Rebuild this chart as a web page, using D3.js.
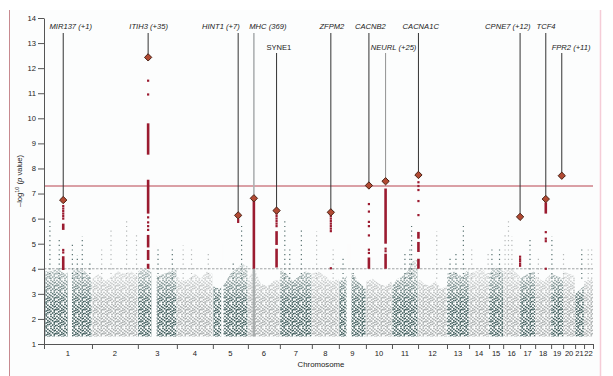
<!DOCTYPE html>
<html>
<head>
<meta charset="utf-8">
<script src="https://cdn.jsdelivr.net/npm/d3@7"></script>
<style>
  body { margin: 0; background: #fff; }
  svg { display: block; font-family: "Liberation Sans", Arial, sans-serif; }
</style>
</head>
<body>
<svg id="chart" width="613" height="376"></svg>
<script>
var chromosomes = ["1","2","3","4","5","6","7","8","9","10","11","12","13","14","15","16","17","18","19","20","21","22"];
var chrLength = [252, 241, 205, 189, 184, 168, 168, 142, 142, 137, 137, 152, 116, 105, 74, 89, 79, 84, 63, 63, 47, 47];

// top of the dense background cloud, sampled evenly along each chromosome (-log10 p)
var cloudTop = [
  [3.9, 3.9, 4.0, 3.8, 3.9, 4.0, 3.9, 3.6],
  [3.6, 3.8, 3.5, 3.7, 3.9, 3.8, 3.9, 3.7],
  [3.9, 4.0, 3.9, 3.7, 3.8, 3.9, 4.0],
  [3.7, 3.5, 3.6, 3.8, 3.6, 3.9, 3.8],
  [3.3, 3.2, 3.4, 3.8, 4.0, 4.2, 4.1],
  [3.6, 4.0, 3.4, 3.3, 3.5, 3.6],
  [4.0, 3.8, 3.5, 3.7, 3.9, 3.8],
  [3.8, 3.9, 3.7, 3.5, 3.6],
  [3.5, 3.6, 3.9, 3.7, 3.4, 3.2],
  [3.5, 3.6, 3.4, 3.3, 3.5],
  [3.3, 3.6, 3.7, 3.9, 4.3, 4.4],
  [3.6, 3.4, 3.3, 3.5, 3.2, 3.3],
  [3.8, 3.9, 3.7, 4.0],
  [3.8, 3.9, 4.0, 3.7],
  [3.8, 4.1, 3.9],
  [3.9, 4.0, 3.7],
  [3.6, 3.8, 3.9],
  [3.7, 3.5, 3.8],
  [3.8, 3.6],
  [3.9, 3.7],
  [3.0, 3.3],
  [3.5, 3.6]
];
var cloudFloor = 1.3;

// empty stretches in the cloud: [chromosome, from Mb, to Mb]
var cloudGaps = [[1, 126, 147], [3, 72, 99], [5, 44, 56], [9, 40, 66]];

// sparse background streaks above the cloud: [chromosome, Mb, top]
var streaks = [
  [1, 31, 5.95], [1, 80, 5.2], [1, 149, 5.0], [1, 175, 4.55], [1, 201, 5.3], [1, 241, 4.33],
  [2, 51, 4.87], [2, 100, 5.6], [2, 182, 6.0], [2, 234, 5.4],
  [3, 106, 4.8], [3, 181, 4.87],
  [4, 33, 4.93], [4, 77, 4.8], [4, 165, 4.7],
  [5, 107, 4.27], [5, 151, 5.8],
  [7, 26, 6.0], [7, 52, 4.8], [7, 113, 5.6],
  [8, 25, 5.5], [8, 112, 4.8],
  [9, 22, 4.5], [9, 75, 4.1],
  [11, 68, 4.67], [11, 94, 4.87], [11, 103, 5.8],
  [12, 98, 5.5],
  [13, 16, 4.5], [13, 47, 4.67], [13, 86, 5.8],
  [14, 14, 4.8], [14, 100, 4.7],
  [15, 15, 4.8], [15, 55, 4.8],
  [16, 10, 5.35], [16, 28, 5.95], [16, 46, 5.3],
  [17, 52, 5.2], [18, 17, 4.5], [19, 4, 5.3], [20, 2, 4.67],
  [21, 35, 4.87], [22, 22, 4.87], [22, 40, 4.87]
];
// solid background column under the MHC hit: [chromosome, Mb, top]
var solidColumns = [[6, 31.5, 4.0]];

// associated loci
var hitGenes = ["MIR137 (+1)", "ITIH3 (+35)", "HINT1 (+7)", "MHC (369)", "SYNE1", "ZFPM2",
                "CACNB2", "NEURL (+25)", "CACNA1C", "CPNE7 (+12)", "TCF4", "FPR2 (+11)"];
var hitChr  = [1, 3, 5, 6, 6, 8, 10, 10, 12, 16, 18, 19];
var hitPos  = [101, 54, 133, 31.5, 150.7, 99.8, 15.8, 103.4, 2, 89, 56, 56];
var hitLead = [6.74, 12.43, 6.13, 6.81, 6.32, 6.25, 7.32, 7.49, 7.74, 6.07, 6.78, 7.71];
var hitRuns = [
  [[5.55, 5.8], [3.95, 4.5]],
  [[8.55, 9.8], [6.2, 7.55], [4.85, 5.35], [4.35, 4.75], [4.0, 4.2]],
  [],
  [[4.0, 6.7]],
  [[4.95, 5.5], [4.05, 4.8]],
  [],
  [[4.0, 4.45]],
  [[5.0, 7.2], [4.0, 4.6]],
  [[5.2, 5.47], [4.67, 5.07], [4.0, 4.4]],
  [],
  [[6.2, 6.65]],
  []
];
var hitDots = [
  [6.5, 6.4, 6.3, 6.2, 6.1, 6.0, 4.75, 4.65],
  [11.5, 10.95, 6.05, 5.85, 5.7, 5.55],
  [5.95, 5.87],
  [],
  [6.2, 6.1, 6.0, 5.9, 5.8, 5.7],
  [6.1, 6.0, 5.9, 5.8, 5.7, 5.6, 5.5, 4.02],
  [6.58, 6.28, 5.87, 5.7, 5.33, 4.76, 4.63],
  [4.8, 4.7],
  [7.45, 7.3, 7.14, 6.7, 6.14],
  [4.48, 4.38, 4.3, 4.2, 4.12],
  [5.46, 5.2, 5.1, 4.0],
  []
];

var yTicks = [1, 2, 3, 4, 5, 6, 7, 8, 9, 10, 11, 12, 13, 14];
var suggestive = 4;
var genomeWide = 7.3;

// label placement (row, horizontal shift from the line)
var labelLayout = {
  "MIR137 (+1)": [0, 7.5], "ITIH3 (+35)": [0, 0.5], "HINT1 (+7)": [0, -17.3], "MHC (369)": [0, 14],
  "SYNE1": [1, 2.3], "ZFPM2": [0, 1], "CACNB2": [0, 1.5], "NEURL (+25)": [1, 8],
  "CACNA1C": [0, 2.3], "CPNE7 (+12)": [0, -12.3], "TCF4": [0, 0.3], "FPR2 (+11)": [1, 9.3]
};

var dark = "#3b5958", light = "#a9adad", red = "#9b1b30";

var svg = d3.select("#chart");

// page frame
svg.append("rect").attr("x", 10).attr("y", 10).attr("width", 590).attr("height", 366).attr("fill", "#fcfdfd");
svg.append("line").attr("x1", 9.5).attr("x2", 9.5).attr("y1", 10).attr("y2", 376)
  .attr("stroke", "#c88a90").attr("stroke-width", 1);
svg.append("line").attr("x1", 600.5).attr("x2", 600.5).attr("y1", 10).attr("y2", 376)
  .attr("stroke", "#f5ccd7").attr("stroke-width", 1.5);

// cumulative starts
var chrStart = [];
var acc = 0;
chrLength.forEach(function (l) { chrStart.push(acc); acc += l; });
var total = acc;

var x = d3.scaleLinear().domain([0, total]).range([44, 593]);
var y = d3.scaleLinear().domain([1, 14]).range([344, 18]);

function gx(chr, mb) { return x(chrStart[chr - 1] + mb); }

// dot texture for the cloud (irregular columns in a 14 x 12 tile)
var defs = svg.append("defs");
var tileCols = [
  [0.2, [0.7, 4.1, 6.0, 9.6]],
  [1.9, [2.2, 5.3, 8.1, 11.0]],
  [3.4, [0.1, 3.3, 7.2, 10.2]],
  [5.1, [1.5, 4.8, 6.6, 9.0, 11.6]],
  [6.8, [2.9, 5.9, 8.6]],
  [8.2, [0.6, 3.9, 7.4, 10.7]],
  [9.9, [1.9, 5.0, 9.3]],
  [11.5, [0.3, 3.1, 6.4, 8.2, 11.2]],
  [12.8, [2.5, 5.8, 10.0]]
];
var tileDots = [];
tileCols.forEach(function (c) { c[1].forEach(function (v) { tileDots.push([c[0], v]); }); });

[["dotsDark", dark, 0], ["dotsLight", light, 5]].forEach(function (p) {
  var pat = defs.append("pattern").attr("id", p[0]).attr("patternUnits", "userSpaceOnUse")
    .attr("width", 14).attr("height", 12)
    .attr("patternTransform", "translate(" + p[2] + ",3)");
  pat.selectAll("rect").data(tileDots).enter().append("rect")
    .attr("x", function (d) { return d[0]; }).attr("y", function (d) { return d[1]; })
    .attr("width", 1.55).attr("height", 1.55).attr("fill", p[1]);
});
var grad = defs.append("linearGradient").attr("id", "fade").attr("gradientUnits", "userSpaceOnUse")
  .attr("x1", 0).attr("x2", 0).attr("y1", y(2.6)).attr("y2", y(4.2));
grad.append("stop").attr("offset", 0).attr("stop-color", "#fff");
grad.append("stop").attr("offset", 1).attr("stop-color", "#4a4a4a");
defs.append("mask").attr("id", "fadeMask").append("rect")
  .attr("x", 0).attr("y", 0).attr("width", 613).attr("height", 376).attr("fill", "url(#fade)");

// background cloud
var cloud = svg.append("g").attr("mask", "url(#fadeMask)");
var area = d3.area()
  .x(function (d) { return d[0]; })
  .y0(y(cloudFloor))
  .y1(function (d) { return y(d[1]); });

cloud.selectAll("path.chr")
  .data(cloudTop)
  .enter()
  .append("path")
  .attr("class", "chr")
  .attr("fill", function (d, i) { return i % 2 ? "url(#dotsLight)" : "url(#dotsDark)"; })
  .attr("d", function (tops, i) {
    var n = tops.length;
    var pts = tops.map(function (t, k) {
      var mb = chrStart[i] + chrLength[i] * (0.01 + 0.98 * k / (n - 1));
      return [x(mb), t];
    });
    return area(pts);
  });

cloud.selectAll("rect.gap")
  .data(cloudGaps)
  .enter()
  .append("rect")
  .attr("class", "gap")
  .attr("x", function (d) { return gx(d[0], d[1]); })
  .attr("width", function (d) { return gx(d[0], d[2]) - gx(d[0], d[1]); })
  .attr("y", y(5))
  .attr("height", y(1) - y(5))
  .attr("fill", "#fcfdfd");

// sparse streaks
svg.append("g").selectAll("line")
  .data(streaks)
  .enter()
  .append("line")
  .attr("x1", function (d) { return gx(d[0], d[1]); })
  .attr("x2", function (d) { return gx(d[0], d[1]); })
  .attr("y1", y(3.6))
  .attr("y2", function (d) { return y(d[2]); })
  .attr("stroke", function (d) { return d[0] % 2 ? dark : light; })
  .attr("stroke-width", 1.2)
  .attr("stroke-dasharray", "1.2 3.5")
  .attr("opacity", 0.85);

svg.append("g").selectAll("line")
  .data(solidColumns)
  .enter()
  .append("line")
  .attr("x1", function (d) { return gx(d[0], d[1]); })
  .attr("x2", function (d) { return gx(d[0], d[1]); })
  .attr("y1", y(cloudFloor))
  .attr("y2", function (d) { return y(d[2]); })
  .attr("stroke", light)
  .attr("stroke-width", 2.5);

// threshold lines
svg.append("line").attr("x1", x(0)).attr("x2", x(total))
  .attr("y1", y(suggestive)).attr("y2", y(suggestive))
  .attr("stroke", "#8a8f90").attr("stroke-width", 0.8).attr("stroke-dasharray", "2.5 1.5");
svg.append("line").attr("x1", x(0)).attr("x2", x(total))
  .attr("y1", y(genomeWide)).attr("y2", y(genomeWide))
  .attr("stroke", "#b8424f").attr("stroke-width", 1);

// hits
var hits = hitGenes.map(function (g, i) {
  return { gene: g, cx: gx(hitChr[i], hitPos[i]), lead: hitLead[i], runs: hitRuns[i], dots: hitDots[i],
           row: labelLayout[g][0], dx: labelLayout[g][1] };
});

var hg = svg.append("g").selectAll("g").data(hits).enter().append("g");

// annotation lines
hg.append("line")
  .attr("x1", function (d) { return d.cx; })
  .attr("x2", function (d) { return d.cx; })
  .attr("y1", function (d) { return d.row ? 53 : 33; })
  .attr("y2", function (d) { return y(d.lead); })
  .attr("stroke", function (d) { return d.gene === "MHC (369)" ? "#aeb1b2" : d.gene === "NEURL (+25)" ? "#777" : "#333"; })
  .attr("stroke-width", function (d) { return d.gene === "MHC (369)" ? 1.6 : d.gene === "NEURL (+25)" ? 0.8 : 1; });

hg.selectAll("line.run")
  .data(function (d) { return d.runs.map(function (r) { return [d.cx, r]; }); })
  .enter()
  .append("line")
  .attr("class", "run")
  .attr("x1", function (d) { return d[0]; })
  .attr("x2", function (d) { return d[0]; })
  .attr("y1", function (d) { return y(d[1][0]); })
  .attr("y2", function (d) { return y(d[1][1]); })
  .attr("stroke", red)
  .attr("stroke-width", 2.6);

hg.selectAll("rect.dot")
  .data(function (d) { return d.dots.map(function (v) { return [d.cx, v]; }); })
  .enter()
  .append("rect")
  .attr("class", "dot")
  .attr("x", function (d) { return d[0] - 1.1; })
  .attr("y", function (d) { return y(d[1]) - 1.1; })
  .attr("width", 2.2)
  .attr("height", 2.2)
  .attr("fill", red);

hg.append("path")
  .attr("d", d3.symbol().type(d3.symbolDiamond2).size(34))
  .attr("transform", function (d) { return "translate(" + d.cx + "," + y(d.lead) + ")"; })
  .attr("fill", "#b24a33")
  .attr("stroke", "#4a2216")
  .attr("stroke-width", 1);

hg.append("text")
  .attr("x", function (d) { return d.cx + d.dx; })
  .attr("y", function (d) { return d.row ? 49.5 : 29; })
  .attr("text-anchor", "middle")
  .style("font-size", "7.6px")
  .style("font-style", function (d) { return d.gene === "SYNE1" ? "normal" : "italic"; })
  .style("fill", "#222")
  .text(function (d) { return d.gene; });

// axes
var yAxis = svg.append("g")
  .attr("transform", "translate(" + x(0) + ",0)")
  .call(d3.axisLeft(y).tickValues(yTicks).tickSize(6).tickPadding(2).tickSizeOuter(0));
yAxis.selectAll("text").style("font-size", "7.6px").style("fill", "#222");
yAxis.selectAll("line, path").attr("stroke", "#555");

var bounds = chrStart.concat([total]);
var xAxis = svg.append("g")
  .attr("transform", "translate(0," + y(1) + ")")
  .call(d3.axisBottom(x).tickValues(bounds).tickFormat("").tickSize(5).tickSizeOuter(0));
xAxis.selectAll("line, path").attr("stroke", "#555");

svg.append("g").selectAll("text")
  .data(chromosomes)
  .enter()
  .append("text")
  .attr("x", function (d, i) { return x(chrStart[i] + chrLength[i] / 2); })
  .attr("y", 356)
  .attr("text-anchor", "middle")
  .style("font-size", "7.6px")
  .style("fill", "#222")
  .text(function (d) { return d; });

svg.append("text")
  .attr("x", 321)
  .attr("y", 367)
  .attr("text-anchor", "middle")
  .style("font-size", "7.8px")
  .style("fill", "#222")
  .text("Chromosome");

var yl = svg.append("text")
  .attr("transform", "translate(22," + y(7.5) + ") rotate(-90)")
  .attr("text-anchor", "middle")
  .style("font-size", "7.6px")
  .style("fill", "#222");
yl.append("tspan").text("\u2013log");
yl.append("tspan").attr("baseline-shift", "super").style("font-size", "5.5px").text("10");
yl.append("tspan").text(" (");
yl.append("tspan").style("font-style", "italic").text("p");
yl.append("tspan").text(" value)");
</script>
</body>
</html>
